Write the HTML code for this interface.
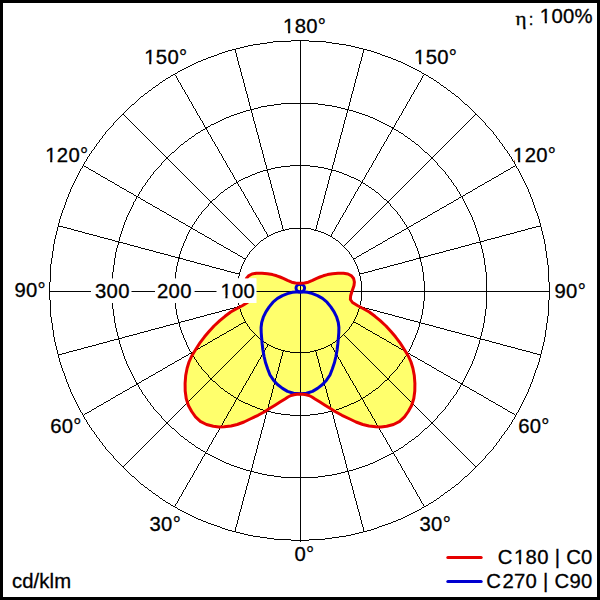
<!DOCTYPE html>
<html><head><meta charset="utf-8">
<style>
html,body{margin:0;padding:0;background:#fff;}
body{width:600px;height:600px;overflow:hidden;position:relative;}
svg{position:absolute;left:0;top:0;}
text{font-family:"Liberation Sans",sans-serif;font-size:20.3px;fill:#000;letter-spacing:0.3px;stroke:#000;stroke-width:0.3px;}
.g circle,.g line{stroke:#000;stroke-width:0.99;fill:none;}
</style></head><body>
<svg width="600" height="600" viewBox="0 0 600 600">
<rect x="0" y="0" width="600" height="600" fill="#fff"/>
<path d="M300.5,283.2 L304.5,283.0 L308.3,282.2 L312.5,280.4 L316.7,278.4 L320.0,277.0 L323.3,275.8 L327.5,274.6 L332.5,273.7 L338.0,273.2 L343.5,273.2 L348.0,274.0 L351.5,275.8 L353.6,278.5 L354.4,282.0 L354.0,285.5 L353.0,288.5 L351.6,292.5 L350.6,296.0 L350.4,299.5 L352.5,302.5 L357.4,305.5 L363.0,308.5 L369.3,312.0 L375.0,316.3 L380.2,320.7 L386.0,326.0 L391.0,331.5 L395.5,336.8 L399.7,342.3 L404.0,349.0 L408.3,356.0 L411.0,362.0 L412.9,368.2 L414.3,375.5 L414.9,383.3 L414.8,391.0 L413.8,398.5 L411.6,405.5 L408.3,411.5 L404.5,416.8 L399.7,421.3 L393.5,424.5 L386.7,426.3 L381.0,426.9 L375.8,426.8 L369.0,426.0 L362.8,424.5 L356.0,422.0 L349.8,419.0 L342.0,415.3 L335.0,411.5 L330.0,408.3 L325.0,405.2 L320.0,402.1 L315.0,399.0 L312.0,397.0 L309.0,395.5 L306.0,394.7 L303.0,394.3 L300.0,394.2 L297.0,394.3 L294.0,394.7 L291.0,395.5 L288.0,397.0 L285.0,399.0 L280.0,402.1 L275.0,405.2 L270.0,408.3 L265.0,411.5 L258.0,415.3 L250.2,419.0 L244.0,422.0 L237.2,424.5 L231.0,426.0 L224.2,426.8 L219.0,426.9 L213.3,426.3 L206.5,424.5 L200.3,421.3 L195.5,416.8 L191.7,411.5 L188.4,405.5 L186.2,398.5 L185.2,391.0 L185.1,383.3 L185.7,375.5 L187.1,368.2 L189.0,362.0 L191.7,356.0 L196.0,349.0 L200.3,342.3 L204.5,336.8 L209.0,331.5 L214.0,326.0 L219.8,320.7 L225.0,316.3 L230.7,312.0 L237.0,308.5 L242.6,305.5 L247.5,302.5 L249.6,299.5 L249.4,296.0 L248.4,292.5 L247.0,288.5 L246.0,285.5 L245.6,282.0 L246.4,278.5 L248.5,275.8 L252.0,274.0 L256.5,273.2 L262.0,273.2 L267.5,273.7 L272.5,274.6 L276.7,275.8 L280.0,277.0 L283.3,278.4 L287.5,280.4 L291.7,282.2 L295.5,283.0 L299.5,283.2 Z" fill="#ffff6c" stroke="none"/>
<g class="g" shape-rendering="crispEdges">
<circle cx="299.5" cy="290.5" r="62.483"/>
<circle cx="299.5" cy="290.5" r="124.965"/>
<circle cx="299.5" cy="290.5" r="187.447"/>
<circle cx="299.5" cy="290.5" r="249.930"/>
<line x1="49" y1="291.5" x2="550" y2="291.5"/>
<line x1="300.5" y1="40" x2="300.5" y2="541.6"/>
<line x1="315.68" y1="350.72" x2="364.20" y2="531.83"/>
<line x1="330.75" y1="344.48" x2="424.50" y2="506.86"/>
<line x1="343.69" y1="334.54" x2="476.28" y2="467.13"/>
<line x1="353.63" y1="321.60" x2="516.01" y2="415.35"/>
<line x1="359.87" y1="306.53" x2="540.98" y2="355.05"/>
<line x1="359.87" y1="274.17" x2="540.98" y2="225.65"/>
<line x1="353.63" y1="259.10" x2="516.01" y2="165.35"/>
<line x1="343.69" y1="246.16" x2="476.28" y2="113.57"/>
<line x1="330.75" y1="236.22" x2="424.50" y2="73.84"/>
<line x1="315.68" y1="229.98" x2="364.20" y2="48.87"/>
<line x1="283.32" y1="229.98" x2="234.80" y2="48.87"/>
<line x1="268.25" y1="236.22" x2="174.50" y2="73.84"/>
<line x1="255.31" y1="246.16" x2="122.72" y2="113.57"/>
<line x1="245.37" y1="259.10" x2="82.99" y2="165.35"/>
<line x1="239.13" y1="274.17" x2="58.02" y2="225.65"/>
<line x1="239.13" y1="306.53" x2="58.02" y2="355.05"/>
<line x1="245.37" y1="321.60" x2="82.99" y2="415.35"/>
<line x1="255.31" y1="334.54" x2="122.72" y2="467.13"/>
<line x1="268.25" y1="344.48" x2="174.50" y2="506.86"/>
<line x1="283.32" y1="350.72" x2="234.80" y2="531.83"/>
</g>
<!-- white label boxes -->
<rect x="91" y="278.4" width="40.5" height="24.6" fill="#fff"/>
<rect x="155" y="278.4" width="39.6" height="24.6" fill="#fff"/>
<rect x="216.7" y="278.4" width="39.6" height="24.6" fill="#fff"/>
<path d="M300.5,291.9 L304.0,292.0 L307.5,292.3 L312.5,293.6 L317.5,295.6 L322.5,298.4 L327.0,302.2 L330.8,306.9 L334.1,311.9 L336.7,317.2 L338.3,322.5 L338.9,327.5 L338.8,332.5 L338.4,337.5 L337.8,344.0 L337.1,350.0 L335.9,356.5 L334.5,362.5 L332.3,369.0 L330.0,375.0 L326.5,380.2 L322.5,384.5 L317.5,388.4 L312.5,391.4 L306.5,393.2 L300.5,393.7 L293.5,393.2 L287.5,391.4 L282.5,388.4 L277.5,384.5 L273.5,380.2 L270.0,375.0 L267.7,369.0 L265.5,362.5 L264.1,356.5 L262.9,350.0 L262.2,344.0 L261.6,337.5 L261.2,332.5 L261.1,327.5 L261.7,322.5 L263.3,317.2 L265.9,311.9 L269.2,306.9 L273.0,302.2 L277.5,298.4 L282.5,295.6 L287.5,293.6 L292.5,292.3 L296.0,292.0 L299.5,291.9 Z" fill="none" stroke="#0000d0" stroke-width="3" stroke-linejoin="round"/>
<ellipse cx="300.3" cy="288.1" rx="4.3" ry="3.9" fill="none" stroke="#0000d0" stroke-width="3"/>
<path d="M300.5,283.2 L304.5,283.0 L308.3,282.2 L312.5,280.4 L316.7,278.4 L320.0,277.0 L323.3,275.8 L327.5,274.6 L332.5,273.7 L338.0,273.2 L343.5,273.2 L348.0,274.0 L351.5,275.8 L353.6,278.5 L354.4,282.0 L354.0,285.5 L353.0,288.5 L351.6,292.5 L350.6,296.0 L350.4,299.5 L352.5,302.5 L357.4,305.5 L363.0,308.5 L369.3,312.0 L375.0,316.3 L380.2,320.7 L386.0,326.0 L391.0,331.5 L395.5,336.8 L399.7,342.3 L404.0,349.0 L408.3,356.0 L411.0,362.0 L412.9,368.2 L414.3,375.5 L414.9,383.3 L414.8,391.0 L413.8,398.5 L411.6,405.5 L408.3,411.5 L404.5,416.8 L399.7,421.3 L393.5,424.5 L386.7,426.3 L381.0,426.9 L375.8,426.8 L369.0,426.0 L362.8,424.5 L356.0,422.0 L349.8,419.0 L342.0,415.3 L335.0,411.5 L330.0,408.3 L325.0,405.2 L320.0,402.1 L315.0,399.0 L312.0,397.0 L309.0,395.5 L306.0,394.7 L303.0,394.3 L300.0,394.2 L297.0,394.3 L294.0,394.7 L291.0,395.5 L288.0,397.0 L285.0,399.0 L280.0,402.1 L275.0,405.2 L270.0,408.3 L265.0,411.5 L258.0,415.3 L250.2,419.0 L244.0,422.0 L237.2,424.5 L231.0,426.0 L224.2,426.8 L219.0,426.9 L213.3,426.3 L206.5,424.5 L200.3,421.3 L195.5,416.8 L191.7,411.5 L188.4,405.5 L186.2,398.5 L185.2,391.0 L185.1,383.3 L185.7,375.5 L187.1,368.2 L189.0,362.0 L191.7,356.0 L196.0,349.0 L200.3,342.3 L204.5,336.8 L209.0,331.5 L214.0,326.0 L219.8,320.7 L225.0,316.3 L230.7,312.0 L237.0,308.5 L242.6,305.5 L247.5,302.5 L249.6,299.5 L249.4,296.0 L248.4,292.5 L247.0,288.5 L246.0,285.5 L245.6,282.0 L246.4,278.5 L248.5,275.8 L252.0,274.0 L256.5,273.2 L262.0,273.2 L267.5,273.7 L272.5,274.6 L276.7,275.8 L280.0,277.0 L283.3,278.4 L287.5,280.4 L291.7,282.2 L295.5,283.0 L299.5,283.2 Z" fill="none" stroke="#e60000" stroke-width="3" stroke-linejoin="round"/>
<rect x="216.7" y="278.4" width="39.6" height="24.6" fill="#fff"/>
<g id="labels">
<text x="304.7" y="32.7" text-anchor="middle">180°</text>
<text x="165.8" y="63.8" text-anchor="middle">150°</text>
<text x="435.7" y="63.8" text-anchor="middle">150°</text>
<text x="66.8" y="162.0" text-anchor="middle">120°</text>
<text x="534.7" y="162.1" text-anchor="middle">120°</text>
<text x="30.2" y="297.4" text-anchor="middle">90°</text>
<text x="570.3" y="297.9" text-anchor="middle">90°</text>
<text x="66" y="432.8" text-anchor="middle">60°</text>
<text x="534" y="432.9" text-anchor="middle">60°</text>
<text x="165.3" y="531.3" text-anchor="middle">30°</text>
<text x="435.3" y="531.2" text-anchor="middle">30°</text>
<text x="304.5" y="561.2" text-anchor="middle">0°</text>
<text x="112.4" y="297.6" text-anchor="middle">300</text>
<text x="174.4" y="297.6" text-anchor="middle">200</text>
<text x="237.8" y="297.5" text-anchor="middle">100</text>
<text x="12" y="588" style="letter-spacing:0.1px">cd/klm</text>
<text transform="translate(515.4 24.8) scale(1.13 1)" x="0" y="0" style="font-family:'Liberation Serif',serif;font-size:18.6px;letter-spacing:0">η</text>
<text x="528.7" y="25" style="font-size:16.8px">:</text>
<text x="592.9" y="22.9" text-anchor="end">100%</text>
<text x="592.7" y="563.8" text-anchor="end"><tspan style="letter-spacing:1.5px">C</tspan>180 | C0</text>
<text x="592.7" y="587.8" text-anchor="end"><tspan style="letter-spacing:1.5px">C</tspan>270 | C90</text>
</g>
<line x1="447.8" y1="557.5" x2="481.2" y2="557.5" stroke="#e60000" stroke-width="3" stroke-linecap="round"/>
<line x1="447.8" y1="581.5" x2="481.2" y2="581.5" stroke="#0000d0" stroke-width="3" stroke-linecap="round"/>
<rect x="283.67" y="30.58" width="4.39" height="3.52" fill="#fff"/>
<rect x="290.19" y="30.58" width="4.23" height="3.52" fill="#fff"/>
<rect x="144.77" y="61.68" width="4.39" height="3.52" fill="#fff"/>
<rect x="151.29" y="61.68" width="4.23" height="3.52" fill="#fff"/>
<rect x="414.67" y="61.68" width="4.39" height="3.52" fill="#fff"/>
<rect x="421.19" y="61.68" width="4.23" height="3.52" fill="#fff"/>
<rect x="45.77" y="159.88" width="4.39" height="3.52" fill="#fff"/>
<rect x="52.29" y="159.88" width="4.23" height="3.52" fill="#fff"/>
<rect x="515.00" y="159.98" width="3.06" height="3.52" fill="#fff"/>
<rect x="520.19" y="159.98" width="4.23" height="3.52" fill="#fff"/>
<rect x="220.97" y="295.38" width="4.39" height="3.52" fill="#fff"/>
<rect x="227.49" y="295.38" width="4.23" height="3.52" fill="#fff"/>
<rect x="540.37" y="20.78" width="4.39" height="3.52" fill="#fff"/>
<rect x="546.89" y="20.78" width="4.23" height="3.52" fill="#fff"/>
<rect x="514.54" y="561.68" width="4.39" height="3.52" fill="#fff"/>
<rect x="521.07" y="561.68" width="4.23" height="3.52" fill="#fff"/>
<!-- border -->
<rect x="1.5" y="1.5" width="597" height="597" fill="none" stroke="#000" stroke-width="3"/>
</svg>
</body></html>
